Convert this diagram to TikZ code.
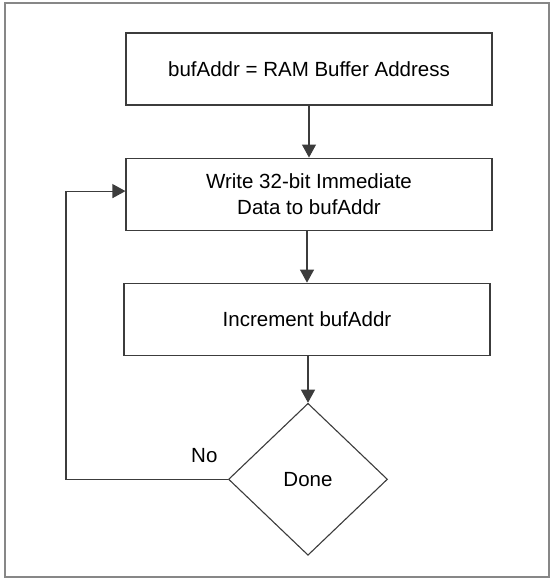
\documentclass[tikz,border=0pt]{standalone}
\usepackage{fontspec}
\setmainfont{Liberation Sans}
\usepackage{tikz}
\usetikzlibrary{arrows.meta,positioning,shapes.geometric}
\definecolor{lineg}{RGB}{60,60,60}
\definecolor{frameg}{RGB}{135,135,135}

\begin{document}
\begin{tikzpicture}[x=1pt, y=1pt,
  every node/.style={font=\fontsize{20.5}{26}\selectfont, text=black},
  block/.style={draw=lineg, line width=1.1pt, fill=white, minimum width=366pt, minimum height=72pt, align=center},
  decision/.style={draw=lineg, line width=1.1pt, fill=white, diamond, inner sep=0pt, minimum width=159pt, minimum height=152pt},
  flow/.style={draw=lineg, line width=1.1pt, -{Triangle[length=13pt,width=14pt]}}]
\useasboundingbox (0,0) rectangle (554,579);
\draw[frameg, line width=1.3pt] (5,2) rectangle (549,576);
\node[block] (init) at (309,510) {bufAddr = RAM Buffer Address};
\node[block, below=52pt of init] (write) {Write 32-bit Immediate\\ Data to bufAddr};
\node[block, below=52pt of write, xshift=-2pt] (incr) {Increment bufAddr};
\node[decision, below=47pt of incr, xshift=1pt] (done) {Done};
\node[anchor=south east] (no) at ([xshift=-7pt,yshift=13pt]done.west) {No};
\draw[flow] (init) -- (write);
\draw[flow] (write.south -| incr) -- (incr);
\draw[flow] (incr.south -| done) -- (done);
\draw[flow] (done.west) -- ([xshift=-162pt]done.west) |- ([yshift=3pt]write.west);
\end{tikzpicture}
\end{document}
